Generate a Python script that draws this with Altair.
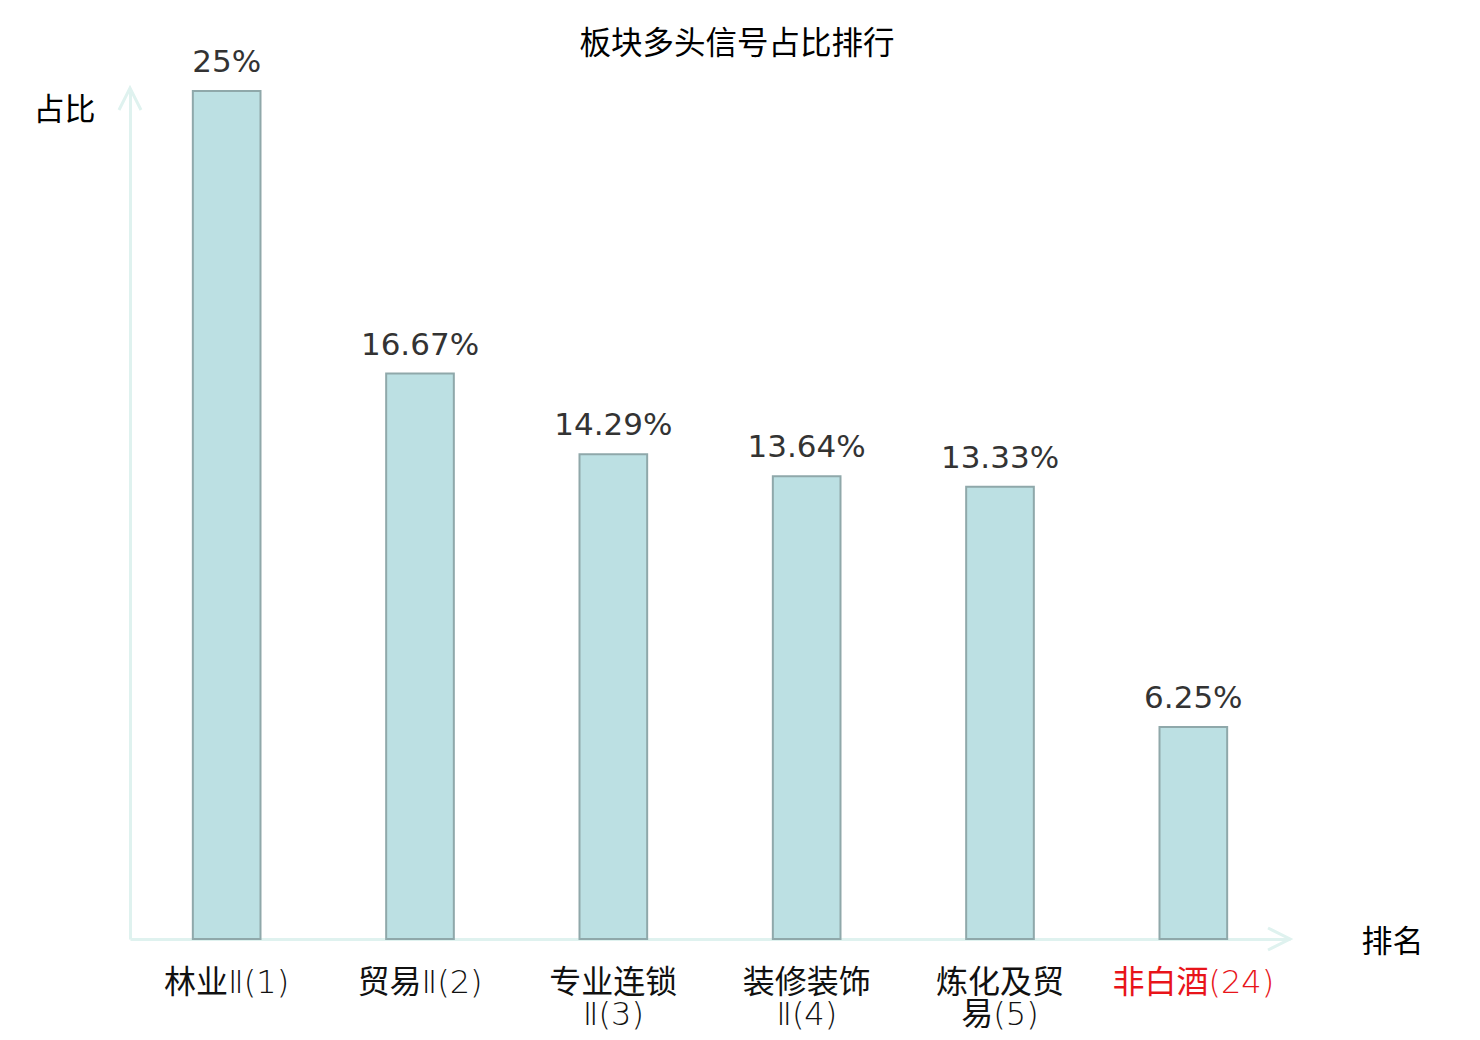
import altair as alt
import pandas as pd

categories = ["林业Ⅱ(1)", "贸易Ⅱ(2)", "专业连锁Ⅱ(3)", "装修装饰Ⅱ(4)", "炼化及贸易(5)", "非白酒(24)"]
values = [25, 16.67, 14.29, 13.64, 13.33, 6.25]
highlight = "非白酒(24)"

df = pd.DataFrame({"cat": categories, "val": values})

W, H = 1160, 848
AXIS_COLOR = "#dff2ef"
CJK = "Noto Sans CJK SC"
LABEL_FONT = "DejaVu Sans Light, DejaVu Sans ExtraLight, Noto Sans CJK SC"

x_enc = alt.X(
    "cat:N",
    sort=categories,
    scale=alt.Scale(paddingInner=0.65, paddingOuter=0.325),
    axis=alt.Axis(
        title="排名",
        titleAngle=0,
        titleX=1262,
        titleY=3,
        titleAlign="center",
        titleBaseline="middle",
        titleFontSize=31,
        titleFontWeight="normal",
        titleColor="#000",
        titleFont=CJK,
        labelAngle=0,
        labelFont=LABEL_FONT,
        labelFontSize=32,
        labelPadding=28,
        labelLineHeight=32,
        labelLimit=0,
        labelColor={"condition": {"test": f"datum.value === '{highlight}'", "value": "#e8141a"}, "value": "#111"},
        labelExpr="length(datum.label) >= 8 ? [substring(datum.label, 0, 4), substring(datum.label, 4)] : datum.label",
        ticks=False,
        domain=True,
        domainColor=AXIS_COLOR,
        domainWidth=3,
        grid=False,
    ),
)

y_enc = alt.Y(
    "val:Q",
    scale=alt.Scale(domain=[0, 25], nice=False, zero=True),
    axis=alt.Axis(
        title="占比",
        titleAngle=0,
        titleX=-66,
        titleY=19,
        titleAlign="center",
        titleBaseline="middle",
        titleFontSize=31,
        titleFontWeight="normal",
        titleColor="#000",
        titleFont=CJK,
        labels=False,
        ticks=False,
        grid=False,
        domain=True,
        domainColor=AXIS_COLOR,
        domainWidth=3,
    ),
)

base = alt.Chart(df)

bars = base.mark_bar(color="#bce0e3", stroke="#8fa8aa", strokeWidth=2).encode(x=x_enc, y=y_enc)

labels = base.transform_calculate(
    lbl="format(datum.val, '.2~f') + '%'"
).mark_text(
    font="DejaVu Sans", fontSize=31, color="#333", baseline="bottom", dy=-12
).encode(x=alt.X("cat:N", sort=categories), y="val:Q", text="lbl:N")

arrow_up = alt.Chart(pd.DataFrame({"a": [0]})).mark_point(
    shape="M-0.5,1L0,0L0.5,1", size=1936, filled=False, stroke=AXIS_COLOR, strokeWidth=3, opacity=1
).encode(x=alt.value(0), y=alt.datum(25), yOffset=alt.value(-3))

arrow_right = alt.Chart(pd.DataFrame({"a": [0]})).mark_point(
    shape="M-1,-0.5L0,0L-1,0.5", size=1936, filled=False, stroke=AXIS_COLOR, strokeWidth=3, opacity=1
).encode(x=alt.value(W), y=alt.datum(0))

chart = alt.layer(bars, labels, arrow_up, arrow_right).properties(
    width=W,
    height=H,
    background="white",
    autosize=alt.AutoSizeParams(type="none"),
    padding={"left": 122, "top": 83, "right": 182, "bottom": 93},
    title=alt.TitleParams(
        "板块多头信号占比排行",
        font=CJK,
        fontSize=31.5,
        fontWeight="normal",
        color="#000",
        anchor="middle",
        dx=27,
        offset=-13,
    ),
).configure_view(strokeWidth=0, stroke="transparent")

chart.save("out.html", embed_options={"renderer": "svg", "actions": False})
